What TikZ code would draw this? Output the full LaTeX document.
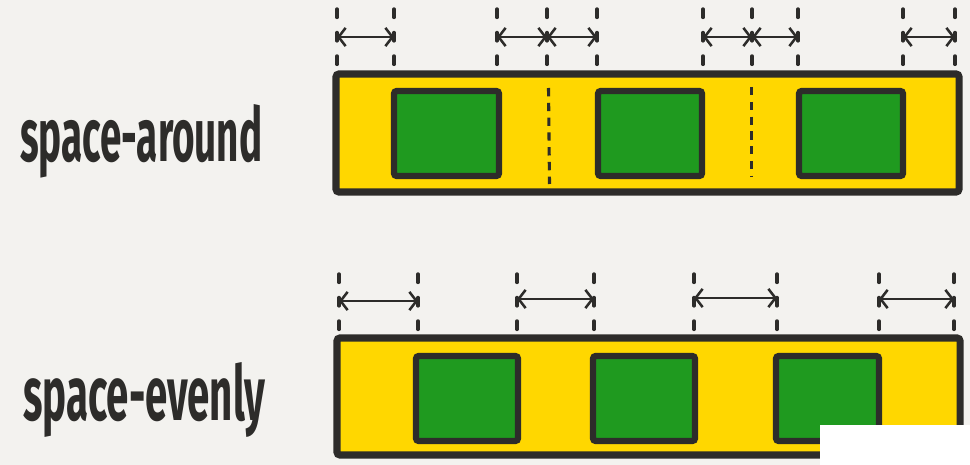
\documentclass[tikz,border=0pt]{standalone}
\usepackage{fontspec}
\usepackage{graphicx}
\newfontfamily\handfont{Fira Sans}
\usetikzlibrary{arrows.meta}
\definecolor{paper}{HTML}{F3F2EF}
\definecolor{ink}{HTML}{2D2C2A}
\definecolor{flexyellow}{HTML}{FFD700}
\definecolor{itemgreen}{HTML}{1F9A1F}
\tikzset{
  container/.style={fill=flexyellow, draw=ink, line width=5pt, rounded corners=2pt},
  item/.style={fill=itemgreen, draw=ink, line width=4.5pt, rounded corners=2pt},
  guide/.style={draw=ink, line width=2.4pt, line cap=round, dash pattern=on 6pt off 10.7pt},
  divider/.style={draw=ink, line width=2.2pt, dash pattern=on 6pt off 4.5pt},
  gap/.style={draw=ink, line width=1.6pt, {Straight Barb[length=5pt,width=13pt,line width=1.8pt]}-{Straight Barb[length=5pt,width=13pt,line width=1.8pt]}},
  label/.style={anchor=base west, inner sep=0pt, text=ink}
}
\begin{document}
\begin{tikzpicture}[x=0.025cm, y=-0.025cm]
  \fill[paper] (0,0) rectangle (970,465);
  \useasboundingbox (0,0) rectangle (970,465);

  \node[label] (around) at (20,162) {\resizebox{6.05cm}{1.425cm}{\handfont\bfseries space-around}};
  \node[label] (evenly) at (23,420) {\resizebox{6.05cm}{1.45cm}{\handfont\bfseries space-evenly}};

  \draw[container] (336,74) rectangle (959,192);
  \draw[item] (394,91) rectangle (499,176);
  \draw[item] (598,91) rectangle (702,176);
  \draw[item] (799,91) rectangle (903,176);
  \draw[divider] (548.5,88) -- (549.5,184);
  \draw[divider] (751.5,87) -- (751.5,177);

  \draw[container] (337,338) rectangle (960,455);
  \draw[item] (416,356) rectangle (518,441);
  \draw[item] (593,356) rectangle (695,441);
  \draw[item] (776,356) rectangle (879,441);

  \coordinate (a1) at (337,37);  \coordinate (a2) at (394,37);
  \coordinate (a3) at (497,37);  \coordinate (a4) at (547,37);
  \coordinate (a5) at (597,37);  \coordinate (a6) at (703,37);
  \coordinate (a7) at (752,37);  \coordinate (a8) at (798,37);
  \coordinate (a9) at (903,37);  \coordinate (a10) at (955,37);
  \draw[guide] (a1) ++(0,-28) -- ++(0,56) (a2) ++(0,-28) -- ++(0,56)
    (a3) ++(0,-28) -- ++(0,56) (a4) ++(0,-28) -- ++(0,56)
    (a5) ++(0,-28) -- ++(0,56) (a6) ++(0,-28) -- ++(0,56)
    (a7) ++(0,-28) -- ++(0,56) (a8) ++(0,-28) -- ++(0,56)
    (a9) ++(0,-28) -- ++(0,56) (a10) ++(0,-28) -- ++(0,56);
  \draw[gap] (a1) -- (a2);
  \draw[gap] (a3) -- (a4);  \draw[gap] (a4) -- (a5);
  \draw[gap] (a6) -- (a7);  \draw[gap] (a7) -- (a8);
  \draw[gap] (a9) -- (a10);

  \coordinate (e1) at (339,301);  \coordinate (e2) at (418,301);
  \coordinate (e3) at (517,299);  \coordinate (e4) at (594,299);
  \coordinate (e5) at (694,298);  \coordinate (e6) at (777,298);
  \coordinate (e7) at (879,299);  \coordinate (e8) at (954,299);
  \draw[guide] (e1) ++(0,-27) -- ++(0,56) (e2) ++(0,-27) -- ++(0,56)
    (e3) ++(0,-25) -- ++(0,56) (e4) ++(0,-25) -- ++(0,56)
    (e5) ++(0,-24) -- ++(0,56) (e6) ++(0,-24) -- ++(0,56)
    (e7) ++(0,-25) -- ++(0,56) (e8) ++(0,-25) -- ++(0,56);
  \draw[gap] (e1) -- (e2);
  \draw[gap] (e3) -- (e4);
  \draw[gap] (e5) -- (e6);
  \draw[gap] (e7) -- (e8);

  \fill[white] (820,425) rectangle (970,465);
\end{tikzpicture}
\end{document}
